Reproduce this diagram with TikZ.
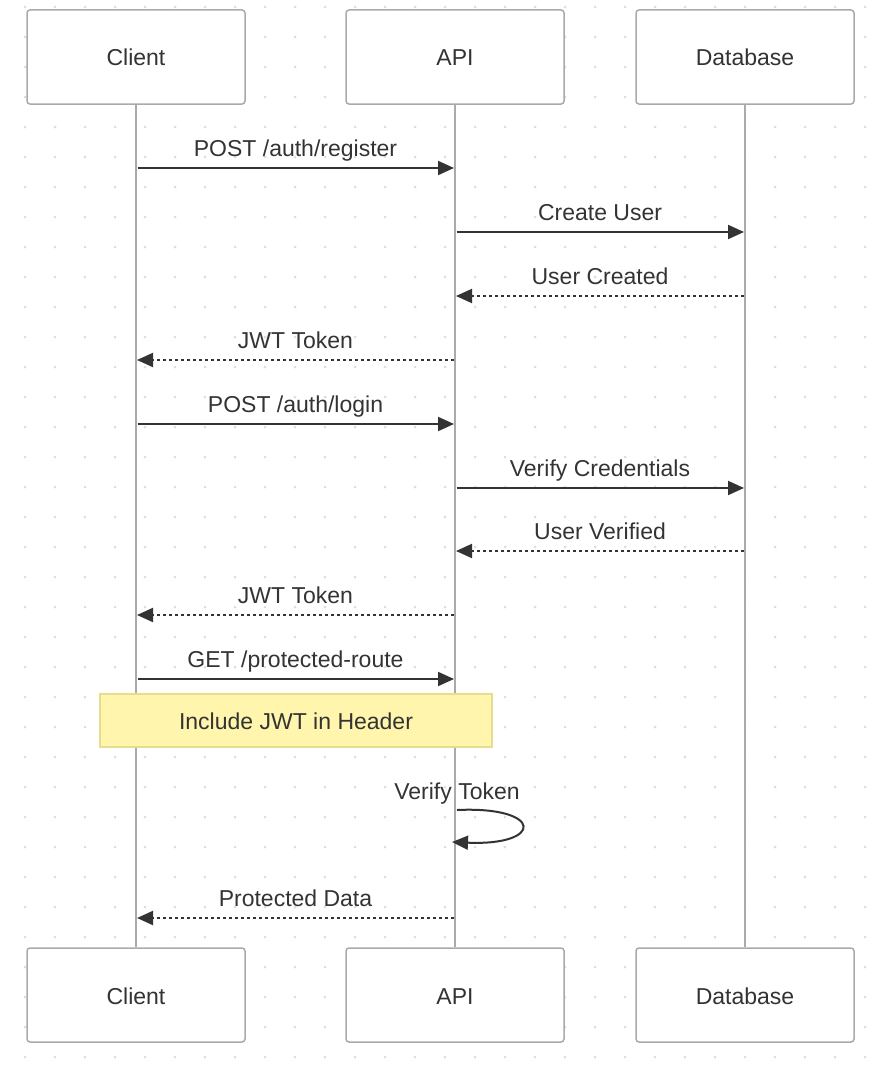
\documentclass[tikz,border=0pt]{standalone}
\usepackage{fontspec}
\setmainfont{Liberation Sans}
\usetikzlibrary{arrows.meta, positioning}

\definecolor{ink}{HTML}{333333}
\definecolor{frame}{HTML}{AAAAAA}
\definecolor{dotgray}{HTML}{DDDDDD}
\definecolor{notefill}{HTML}{FFF5AD}
\definecolor{noteline}{HTML}{E6DD8F}

\tikzset{
    txt/.style={text=ink, font=\fontsize{23}{27}\selectfont, text height=19pt, text depth=1pt},
    actorbox/.style={txt, draw=frame, line width=1.5pt, fill=white, rounded corners=3pt,
        minimum width=218pt, minimum height=94pt},
    lifeline/.style={frame, line width=2.5pt},
    msg/.style={ink, line width=2pt, -{Triangle[length=16pt, width=14pt]}},
    reply/.style={msg, dash pattern=on 3pt off 3pt},
    msglabel/.style={txt},
    notebox/.style={txt, draw=noteline, line width=1.5pt, fill=notefill,
        minimum width=392pt, minimum height=53pt}
}

\begin{document}
\begin{tikzpicture}[x=1pt, y=-1pt]
    \useasboundingbox (0,0) rectangle (883,1065);

    % Dotted background
    \foreach \x in {25,55,...,865} {
        \foreach \y in {7,37,...,1057} {
            \fill[dotgray] (\x,\y) circle (1.5pt);
        }
    }

    % Actors
    \node[actorbox] (client) at (136,57) {Client};
    \node[actorbox] (api) at (455,57) {API};
    \node[actorbox] (db) at (745,57) {Database};
    \node[actorbox] (clientb) at (136,995) {Client};
    \node[actorbox] (apib) at (455,995) {API};
    \node[actorbox] (dbb) at (745,995) {Database};

    % Lifelines
    \foreach \top/\bot in {client/clientb, api/apib, db/dbb} {
        \draw[lifeline] (\top.south) -- (\bot.north);
    }

    % Messages
    \foreach \y/\from/\to/\sty/\txt in {
        168/client/api/msg/{POST /auth/register},
        232/api/db/msg/{Create User},
        296/db/api/reply/{User Created},
        360/api/client/reply/{JWT Token},
        424/client/api/msg/{POST /auth/login},
        488/api/db/msg/{Verify Credentials},
        551/db/api/reply/{User Verified},
        615/api/client/reply/{JWT Token},
        679/client/api/msg/{GET /protected-route},
        918/api/client/reply/{Protected Data}} {
        \draw[\sty, shorten <=1.5pt, shorten >=1pt] (\from.south |- 0,\y) -- (\to.south |- 0,\y)
            node[msglabel, midway, yshift=21pt] {\txt};
    }

    % Note
    \node[notebox] (note) at (296,720.5) {Include JWT in Header};

    % Self call
    \node[msglabel] (verify) at (457,790) {Verify Token};
    \draw[msg] ([xshift=2pt]api.south |- 0,810) .. controls (544,806) and (544,846) .. ([xshift=-3pt]api.south |- 0,842);
\end{tikzpicture}
\end{document}
